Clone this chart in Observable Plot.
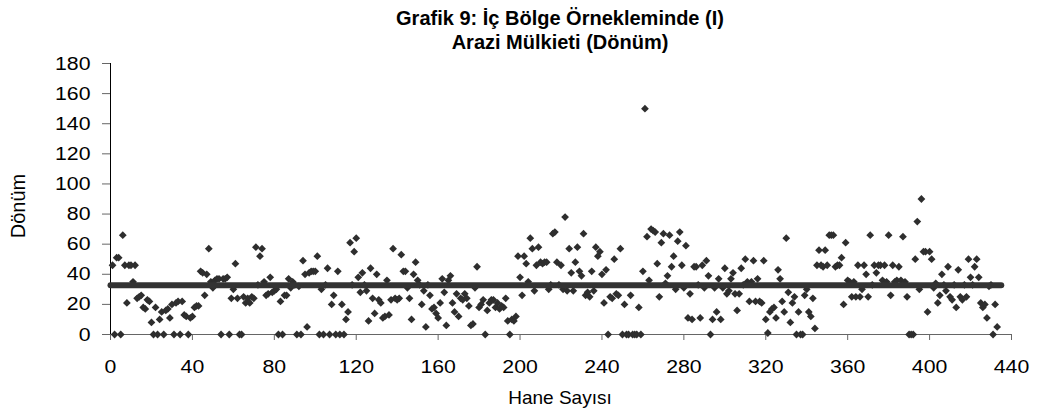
<!DOCTYPE html>
<html>
<head>
<meta charset="utf-8">
<script src="https://cdn.jsdelivr.net/npm/d3@7"></script>
<script src="https://cdn.jsdelivr.net/npm/@observablehq/plot@0.6"></script>
<style>
  body { margin: 0; background: #fff; }
  #wrap { position: relative; width: 1039px; height: 416px; font-family: "Liberation Sans", Arial, sans-serif; color: #000; }
  .title { position: absolute; left: 0; width: 1120px; text-align: center; font-weight: bold; font-size: 20px; line-height: 24px; }
  .axlab { position: absolute; font-size: 19px; line-height: 22px; height: 22px; }
</style>
</head>
<body>
<div id="wrap">
  <div id="chart"></div>
  <div class="title" style="top:6px">Grafik 9: İç Bölge Örnekleminde (I)</div>
  <div class="title" style="top:30px">Arazi Mülkieti (Dönüm)</div>
  <div class="axlab" style="left:460px;width:200px;text-align:center;top:387px">Hane Sayısı</div>
  <div class="axlab" style="left:-82px;width:200px;text-align:center;top:195px;font-size:20px;transform:rotate(-90deg)">Dönüm</div>
</div>
<script>
// Arazi (dönüm) per household, households 1..433
const values = [
  46, 0, 51, 51, 0, 66, 46, 21, 46, 46,
  35, 46, 24, 25, 26, 18, 17, 23, 22, 8,
  0, 18, 0, 10, 15, 0, 16, 17, 11, 20,
  0, 21, 22, 0, 22, 13, 12, 0, 11, 12,
  18, 19, 19, 42, 41, 26, 40, 57, 35, 31,
  36, 37, 37, 0, 37, 37, 38, 0, 24, 30,
  47, 24, 0, 0, 25, 21, 24, 21, 25, 24,
  58, 33, 52, 57, 35, 26, 27, 38, 28, 29,
  30, 0, 22, 0, 26, 26, 37, 31, 35, 33,
  0, 32, 0, 49, 40, 5, 41, 42, 42, 42,
  52, 0, 30, 0, 33, 44, 0, 20, 26, 0,
  42, 0, 20, 0, 10, 15, 61, 33, 55, 64,
  38, 28, 41, 33, 29, 9, 44, 24, 14, 40,
  23, 21, 11, 12, 36, 13, 23, 57, 24, 23,
  24, 53, 42, 42, 31, 24, 10, 40, 48, 36,
  33, 20, 29, 5, 33, 26, 17, 18, 14, 11,
  21, 37, 28, 6, 36, 39, 21, 15, 27, 12,
  24, 23, 27, 24, 19, 6, 7, 31, 45, 18,
  20, 23, 0, 16, 21, 23, 23, 18, 21, 17,
  19, 18, 24, 9, 0, 10, 9, 12, 52, 38,
  26, 52, 47, 35, 64, 57, 29, 46, 58, 48,
  47, 48, 48, 30, 33, 67, 68, 48, 33, 46,
  30, 78, 29, 57, 41, 29, 48, 58, 42, 39,
  67, 26, 28, 25, 42, 29, 58, 52, 55, 40,
  21, 43, 0, 25, 24, 50, 27, 26, 57, 0,
  20, 0, 0, 26, 0, 0, 0, 18, 0, 42,
  150, 65, 36, 70, 69, 68, 47, 25, 61, 67,
  34, 39, 66, 45, 52, 30, 62, 68, 46, 31,
  59, 11, 27, 10, 45, 45, 33, 11, 46, 31,
  49, 39, 0, 10, 31, 15, 37, 10, 31, 44,
  27, 29, 37, 41, 27, 16, 27, 44, 33, 50,
  35, 22, 35, 49, 22, 37, 22, 21, 49, 10,
  1, 15, 17, 18, 11, 43, 37, 22, 15, 64,
  28, 8, 21, 25, 0, 15, 0, 0, 26, 30,
  15, 12, 24, 4, 46, 56, 46, 45, 56, 46,
  66, 66, 66, 45, 46, 46, 51, 20, 61, 36,
  35, 25, 35, 25, 46, 25, 30, 46, 40, 25,
  66, 33, 46, 41, 46, 46, 36, 46, 35, 66,
  26, 46, 35, 36, 45, 36, 65, 35, 25, 0,
  0, 0, 50, 75, 30, 90, 55, 55, 15, 55,
  50, 31, 34, 21, 26, 40, 33, 29, 45, 25,
  23, 33, 18, 43, 25, 23, 33, 25, 50, 38,
  33, 45, 50, 38, 21, 18, 20, 11, 32, 33,
  0, 20, 5
];
const households = values.map((_, i) => i + 1);

// average line
const meanValue = 32.7;
const meanSpan = [0, 435];

const xTicks = [0, 40, 80, 120, 160, 200, 240, 280, 320, 360, 400, 440];
const yTicks = [0, 20, 40, 60, 80, 100, 120, 140, 160, 180];

const points = households.map((h, i) => ({h, v: values[i]}));
const meanLine = meanSpan.map(x => ({x, y: meanValue}));

const chart = Plot.plot({
  width: 1039,
  height: 416,
  marginLeft: 110,
  marginRight: 28,
  marginTop: 63,
  marginBottom: 82,
  style: {fontFamily: "'Liberation Sans', Arial, sans-serif", fontSize: "19px", color: "#000", background: "#fff", overflow: "visible"},
  x: {domain: [0, 440], label: null},
  y: {domain: [0, 180], label: null},
  marks: [
    Plot.axisY({ticks: yTicks, tickSize: 8, tickPadding: 12, fontSize: 19, label: null, stroke: "#666"}),
    Plot.axisX({ticks: xTicks, tickSize: 6, tickPadding: 19, fontSize: 19, label: null, stroke: "#666"}),
    Plot.ruleX([0], {stroke: "#000"}),
    Plot.ruleY([0], {stroke: "#666"}),
    Plot.dot(points, {x: "h", y: "v", symbol: "diamond2", r: 3.5, fill: "#2e2e2e", stroke: "none"}),
    Plot.line(meanLine, {x: "x", y: "y", stroke: "#333", strokeWidth: 6})
  ]
});
// the reference's tick labels are slightly wider than plain Arial
chart.querySelectorAll("g[aria-label='y-axis tick label'] text, g[aria-label='x-axis tick label'] text").forEach(t => {
  const tr = t.getAttribute("transform") || "";
  t.setAttribute("transform", tr + " scale(1.12,1)");
});
document.getElementById("chart").appendChild(chart);
</script>
</body>
</html>
